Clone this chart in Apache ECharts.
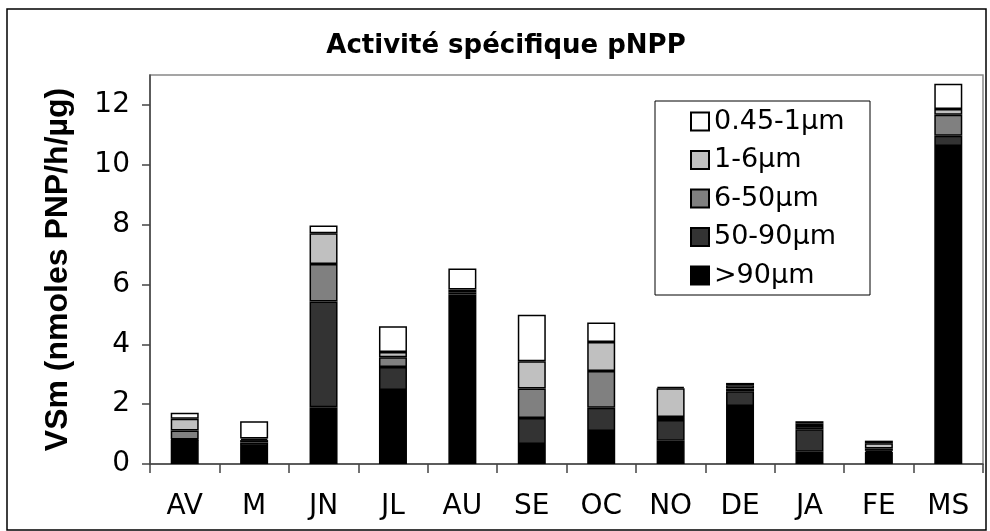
<!DOCTYPE html>
<html>
<head>
<meta charset="utf-8">
<script src="https://cdn.jsdelivr.net/npm/echarts@6/dist/echarts.min.js"></script>
<style>
html,body{margin:0;padding:0;background:#fff;}
#chart{width:990px;height:531px;}
</style>
</head>
<body>
<div id="chart"></div>
<script>
const categories = ['AV','M','JN','JL','AU','SE','OC','NO','DE','JA','FE','MS'];
const seriesNames = ['>90µm','50-90µm','6-50µm','1-6µm','0.45-1µm'];
const gt90   = [0.80, 0.60, 1.90, 2.47, 5.58, 0.67, 1.10, 0.78, 1.94, 0.41, 0.40, 10.63];
const s50_90 = [0.02, 0.12, 3.53, 0.77, 0.08, 0.87, 0.78, 0.69, 0.49, 0.75, 0.04, 0.34];
const s6_50  = [0.30, 0.08, 1.25, 0.33, 0.08, 0.98, 1.23, 0.10, 0.09, 0.11, 0.08, 0.70];
const s1_6   = [0.39, 0.05, 1.03, 0.17, 0.09, 0.91, 0.97, 0.96, 0.11, 0.09, 0.17, 0.19];
const s045_1 = [0.20, 0.58, 0.26, 0.86, 0.70, 1.56, 0.65, 0.05, 0.08, 0.07, 0.09, 0.85];
const yTicks = [0, 2, 4, 6, 8, 10, 12];
const colors = ['#000000', '#333333', '#808080', '#c0c0c0', '#ffffff'];

const values = [gt90, s50_90, s6_50, s1_6, s045_1];
const chart = echarts.init(document.getElementById('chart'), null, {renderer: 'canvas'});

const series = seriesNames.map((name, i) => ({
  name: name,
  type: 'bar',
  stack: 'total',
  barWidth: 28,
  data: values[i],
  itemStyle: { color: colors[i], borderColor: '#000', borderWidth: 1.5 },
  emphasis: { disabled: true }
}));

chart.setOption({
  animation: false,
  backgroundColor: '#fff',
  title: {
    text: 'Activité spécifique pNPP',
    left: 501, top: 28, textAlign: 'center',
    textStyle: { fontFamily: 'DejaVu Sans', fontWeight: 'bold', fontSize: 26, color: '#000' }
  },
  graphic: [
    { type: 'rect', shape: { x: 7, y: 9, width: 979, height: 521 }, style: { fill: 'none', stroke: '#000', lineWidth: 1.5 }, z: 0 },
    { type: 'rect', shape: { x: 655, y: 101, width: 215, height: 194 }, style: { fill: '#fff', stroke: '#000', lineWidth: 1 }, z: 5 }
  ],
  legend: {
    orient: 'vertical',
    left: 690, top: 108,
    padding: 0,
    data: seriesNames.slice().reverse(),
    icon: 'rect',
    itemWidth: 18, itemHeight: 18,
    itemGap: 11.5,
    z: 10,
    textStyle: { fontFamily: 'DejaVu Sans', fontSize: 27, color: '#000', lineHeight: 26, padding: [0,0,0,0] }
  },
  grid: {
    left: 150, right: 7, top: 75, bottom: 67,
    show: true, borderColor: '#888', borderWidth: 1.5, backgroundColor: 'transparent'
  },
  xAxis: {
    type: 'category',
    data: categories,
    axisLine: { lineStyle: { color: '#444', width: 1.5 } },
    axisTick: { show: true, length: 9, lineStyle: { color: '#444', width: 1.5 } },
    axisLabel: { fontFamily: 'DejaVu Sans', fontSize: 28, color: '#000', margin: 29 }
  },
  yAxis: {
    type: 'value',
    min: 0, max: 13, interval: 2,
    name: 'VSm (nmoles PNP/h/µg)',
    nameLocation: 'middle',
    nameGap: 76,
    nameTextStyle: { fontFamily: 'Liberation Sans', fontWeight: 'bold', fontSize: 32, color: '#000' },
    axisLine: { show: true, lineStyle: { color: '#444', width: 1.5 } },
    axisTick: { show: true, length: 8, customValues: yTicks, lineStyle: { color: '#444', width: 1.5 } },
    axisLabel: { fontFamily: 'DejaVu Sans', fontSize: 28, color: '#000', margin: 20, customValues: yTicks },
    splitLine: { show: false }
  },
  series: series
});
</script>
</body>
</html>
